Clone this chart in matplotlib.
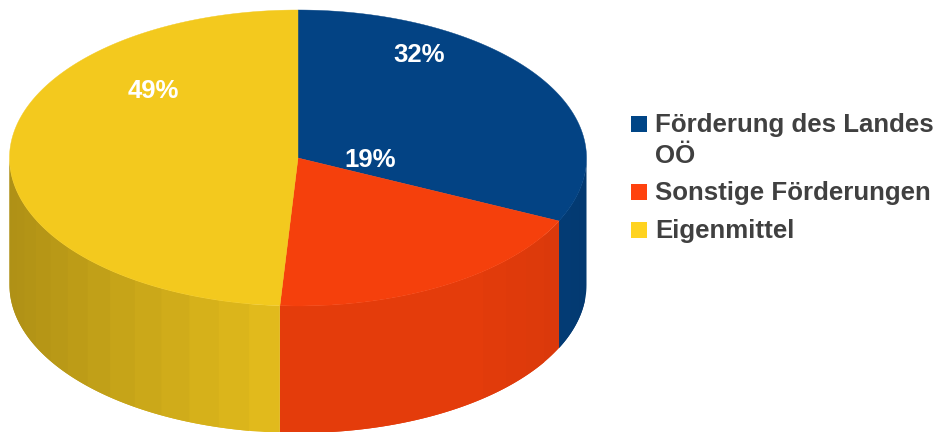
import numpy as np
import matplotlib
matplotlib.use("Agg")
import matplotlib.pyplot as plt
from matplotlib.colors import to_rgb
from matplotlib.patches import Polygon, Rectangle

plt.rcParams['font.family'] = ['Liberation Sans', 'DejaVu Sans']

# Financing shares in percent, clockwise from 12 o'clock
categories = ["Förderung des Landes\nOÖ", "Sonstige Förderungen", "Eigenmittel"]
shares = [32, 19, 49]
top_colors = ["#034384", "#f5400c", "#f3c91e"]
legend_colors = ["#004586", "#ff420e", "#ffd320"]
text_color = "#404040"

# pie geometry, in pixels
cx, cy = 298, 158
rx, ry = 288.5, 148
depth = 127
facet_step = 6.0


def rim(theta):
    # theta in degrees, clockwise from the top
    t = np.radians(theta)
    return cx + rx * np.sin(t), cy - ry * np.cos(t)


def shade(theta):
    # the side gets darker towards the outer left and right edges
    s = np.sin(np.radians(theta))
    return np.interp(s, [-1, -0.5, -0.1, 0.6, 0.9, 1], [0.72, 0.84, 0.93, 0.93, 0.89, 0.85])


fig = plt.figure(figsize=(9.37, 4.32), dpi=100)
ax = fig.add_axes([0, 0, 1, 1])
ax.set_xlim(0, 937)
ax.set_ylim(432, 0)
ax.axis("off")

edges = np.concatenate([[0], np.cumsum(shares)]) * 3.6

# side wall, split in facets; each one runs on under the next to hide seams
for start, end, col in zip(edges[:-1], edges[1:], top_colors):
    lo, hi = max(start, 90), min(end, 270)
    if hi <= lo:
        continue
    n = max(int(round((hi - lo) / facet_step)), 1)
    steps = np.linspace(lo, hi, n + 1)
    base = np.array(to_rgb(col))
    for i, (a, b) in enumerate(zip(steps[:-1], steps[1:])):
        stop = steps[i + 2] if i + 2 <= n else b
        xs, ys = rim(np.linspace(a, stop, 12))
        pts = np.vstack([np.column_stack([xs, ys]),
                         np.column_stack([xs[::-1], ys[::-1] + depth])])
        ax.add_patch(Polygon(pts, closed=True, facecolor=base * shade((a + b) / 2),
                             edgecolor="none"))

# top face
for start, end, col in zip(edges[:-1], edges[1:], top_colors):
    xs, ys = rim(np.linspace(start, end, 200))
    pts = np.vstack([[cx, cy], np.column_stack([xs, ys])])
    ax.add_patch(Polygon(pts, closed=True, facecolor=col, edgecolor=col, linewidth=0.3))

# percentage labels
label_xy = [(419, 55), (370, 160), (153, 91)]
for val, (x, y) in zip(shares, label_xy):
    ax.text(x, y, f"{val}%", color="white", fontsize=18.5, fontweight="bold",
            ha="center", va="center")

# legend, y is the text baseline of the first line
legend_y = [132, 200, 238]
for name, col, y in zip(categories, legend_colors, legend_y):
    ax.add_patch(Rectangle((631, y - 16), 16, 16, facecolor=col, edgecolor="none"))
    for k, line in enumerate(name.split("\n")):
        ax.text(655, y + 31 * k, line, color=text_color, fontsize=18.6,
                fontweight="bold", ha="left", va="baseline")

fig.savefig("out.png", dpi=100)
